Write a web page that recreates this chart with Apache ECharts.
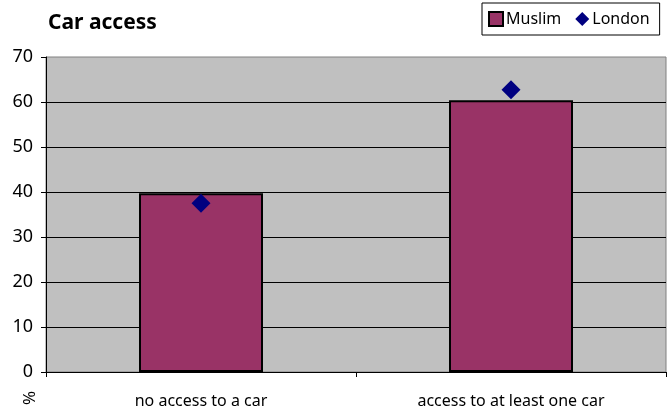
<!DOCTYPE html>
<html>
<head>
<meta charset="utf-8">
<script src="https://cdn.jsdelivr.net/npm/echarts@6/dist/echarts.min.js"></script>
<style>
html,body{margin:0;padding:0;background:#fff;}
#chart{width:667px;height:414px;}
</style>
</head>
<body>
<div id="chart"></div>
<script>
const categories = ['no access to a car', 'access to at least one car'];
const muslim = [39.7, 60.4];
const london = [37.5, 62.7];
const yTicks = { min: 0, max: 70, interval: 10 };

const FONT = 'Noto Sans';
const chart = echarts.init(document.getElementById('chart'), null, { renderer: 'canvas' });
chart.setOption({
  animation: false,
  backgroundColor: '#fff',
  textStyle: { fontFamily: FONT },
  title: {
    text: 'Car access',
    left: 43, top: 8,
    textStyle: { fontFamily: FONT, fontWeight: 'bold', fontSize: 21, color: '#000' }
  },
  legend: {
    left: 482, top: 3,
    padding: [8, 10, 8, 6],
    itemWidth: 14, itemHeight: 14, itemGap: 14,
    borderColor: '#000', borderWidth: 1,
    backgroundColor: '#fff',
    textStyle: { fontFamily: FONT, fontSize: 16, color: '#000', padding: [0, 0, 0, -2] },
    data: [
      { name: 'Muslim', icon: 'rect', itemStyle: { color: '#993366', borderColor: '#000', borderWidth: 2 } },
      { name: 'London', icon: 'diamond', itemStyle: { color: '#000080', opacity: 1 } }
    ]
  },
  grid: {
    left: 46, right: 1, top: 57, bottom: 42,
    show: true, backgroundColor: '#C0C0C0', borderColor: '#808080', borderWidth: 1
  },
  xAxis: {
    type: 'category',
    data: categories,
    boundaryGap: true,
    axisLine: { lineStyle: { color: '#000', width: 1 } },
    axisTick: { show: true, length: 5, lineStyle: { color: '#000' } },
    axisLabel: { fontFamily: FONT, fontSize: 16, color: '#000', margin: 21 },
    splitLine: { show: false }
  },
  yAxis: {
    type: 'value',
    min: yTicks.min, max: yTicks.max, interval: yTicks.interval,
    axisLine: { show: true, lineStyle: { color: '#000', width: 1 } },
    axisTick: { show: true, length: 5, lineStyle: { color: '#000' } },
    axisLabel: { fontFamily: FONT, fontSize: 18, color: '#000', margin: 13 },
    splitLine: { show: true, showMaxLine: false, lineStyle: { color: '#000', width: 1 } }
  },
  graphic: [{
    type: 'text',
    x: 30, y: 398,
    rotation: Math.PI / 2,
    style: { text: '%', fontFamily: FONT, fontSize: 17, fill: '#000', textAlign: 'center', textVerticalAlign: 'middle' }
  }],
  series: [
    {
      name: 'Muslim', type: 'bar', data: muslim, barWidth: '40%',
      itemStyle: { color: '#993366', borderColor: '#000', borderWidth: 2 }
    },
    {
      name: 'London', type: 'scatter', data: london, symbol: 'diamond', symbolSize: 19,
      itemStyle: { color: '#000080', opacity: 1 }, z: 5
    }
  ]
});
</script>
</body>
</html>
